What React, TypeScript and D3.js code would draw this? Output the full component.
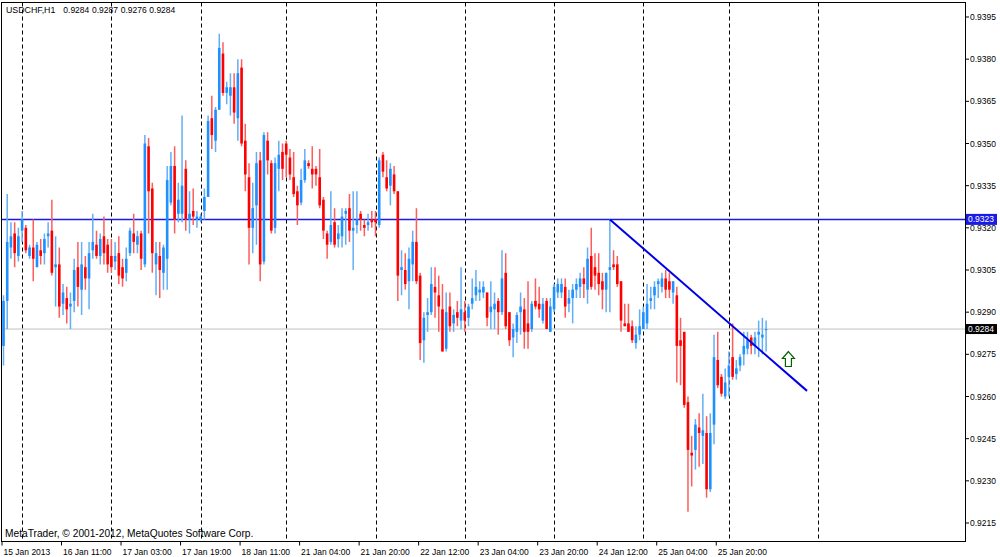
import React from 'react';
import * as d3 from 'd3';

// ---- data (USDCHF H1) ----
const opens = [
  0.9278, 0.9294, 0.9313, 0.9318, 0.9310, 0.9319, 0.9320, 0.9310, 0.9313, 0.9306,
  0.9312, 0.9311, 0.9317, 0.9319, 0.9306, 0.9307, 0.9293, 0.9295, 0.9292, 0.9294,
  0.9306, 0.9298, 0.9306, 0.9302, 0.9312, 0.9314, 0.9310, 0.9317, 0.9314, 0.9310,
  0.9308, 0.9311, 0.9306, 0.9304, 0.9311, 0.9318, 0.9314, 0.9318, 0.9307, 0.9349,
  0.9334, 0.9307, 0.9310, 0.9304, 0.9309, 0.9329, 0.9342, 0.9325, 0.9325, 0.9341,
  0.9323, 0.9326, 0.9323, 0.9323, 0.9326, 0.9331, 0.9359, 0.9351, 0.9362, 0.9382,
  0.9368, 0.9367, 0.9370, 0.9359, 0.9377, 0.9351, 0.9338, 0.9320, 0.9328, 0.9344,
  0.9308, 0.9351, 0.9343, 0.9320, 0.9341, 0.9347, 0.9350, 0.9345, 0.9338, 0.9333,
  0.9329, 0.9337, 0.9343, 0.9341, 0.9341, 0.9338, 0.9330, 0.9318, 0.9315, 0.9322,
  0.9316, 0.9317, 0.9325, 0.9327, 0.9319, 0.9321, 0.9325, 0.9321, 0.9321, 0.9323,
  0.9323, 0.9321, 0.9346, 0.9338, 0.9335, 0.9339, 0.9333, 0.9305, 0.9305, 0.9301,
  0.9307, 0.9315, 0.9303, 0.9280, 0.9289, 0.9290, 0.9299, 0.9296, 0.9291, 0.9277,
  0.9292, 0.9286, 0.9290, 0.9287, 0.9290, 0.9288, 0.9293, 0.9296, 0.9297, 0.9297,
  0.9297, 0.9290, 0.9291, 0.9294, 0.9290, 0.9304, 0.9290, 0.9281, 0.9283, 0.9290,
  0.9291, 0.9286, 0.9284, 0.9294, 0.9293, 0.9287, 0.9294, 0.9283, 0.9291, 0.9297,
  0.9297, 0.9299, 0.9293, 0.9295, 0.9298, 0.9299, 0.9302, 0.9298, 0.9310, 0.9306,
  0.9304, 0.9301, 0.9298, 0.9305, 0.9307, 0.9307, 0.9301, 0.9286, 0.9286, 0.9285,
  0.9279, 0.9282, 0.9284, 0.9286, 0.9294, 0.9296, 0.9300, 0.9299, 0.9302, 0.9301,
  0.9297, 0.9296, 0.9280, 0.9283, 0.9258, 0.9240, 0.9241, 0.9249, 0.9246, 0.9247,
  0.9227, 0.9250, 0.9273, 0.9267, 0.9260, 0.9267, 0.9274, 0.9268, 0.9271, 0.9275,
  0.9277, 0.9281, 0.9278, 0.9282, 0.9281, 0.9284,
];
const highs = [
  0.9296, 0.9332, 0.9322, 0.9322, 0.9320, 0.9326, 0.9321, 0.9314, 0.9323, 0.9315,
  0.9316, 0.9318, 0.9322, 0.9330, 0.9317, 0.9313, 0.9300, 0.9299, 0.9297, 0.9309,
  0.9315, 0.9315, 0.9310, 0.9315, 0.9325, 0.9319, 0.9318, 0.9324, 0.9316, 0.9316,
  0.9315, 0.9317, 0.9309, 0.9313, 0.9320, 0.9325, 0.9319, 0.9319, 0.9353, 0.9352,
  0.9336, 0.9315, 0.9315, 0.9314, 0.9342, 0.9347, 0.9349, 0.9336, 0.9360, 0.9344,
  0.9333, 0.9334, 0.9326, 0.9325, 0.9334, 0.9360, 0.9367, 0.9363, 0.9389, 0.9386,
  0.9372, 0.9375, 0.9375, 0.9380, 0.9380, 0.9357, 0.9343, 0.9336, 0.9347, 0.9347,
  0.9354, 0.9354, 0.9344, 0.9345, 0.9351, 0.9350, 0.9351, 0.9348, 0.9347, 0.9335,
  0.9341, 0.9348, 0.9344, 0.9349, 0.9342, 0.9348, 0.9331, 0.9319, 0.9333, 0.9327,
  0.9321, 0.9327, 0.9327, 0.9332, 0.9333, 0.9333, 0.9326, 0.9323, 0.9325, 0.9326,
  0.9326, 0.9345, 0.9347, 0.9344, 0.9343, 0.9342, 0.9333, 0.9312, 0.9311, 0.9313,
  0.9319, 0.9327, 0.9304, 0.9290, 0.9295, 0.9306, 0.9306, 0.9303, 0.9300, 0.9297,
  0.9297, 0.9291, 0.9294, 0.9306, 0.9294, 0.9293, 0.9302, 0.9305, 0.9301, 0.9301,
  0.9297, 0.9301, 0.9297, 0.9295, 0.9312, 0.9311, 0.9290, 0.9286, 0.9290, 0.9297,
  0.9295, 0.9301, 0.9294, 0.9302, 0.9299, 0.9295, 0.9295, 0.9295, 0.9300, 0.9302,
  0.9302, 0.9302, 0.9298, 0.9300, 0.9302, 0.9304, 0.9306, 0.9313, 0.9320, 0.9311,
  0.9311, 0.9304, 0.9304, 0.9323, 0.9312, 0.9310, 0.9301, 0.9293, 0.9293, 0.9287,
  0.9285, 0.9291, 0.9292, 0.9300, 0.9299, 0.9301, 0.9302, 0.9304, 0.9305, 0.9304,
  0.9301, 0.9299, 0.9288, 0.9283, 0.9260, 0.9246, 0.9252, 0.9254, 0.9261, 0.9253,
  0.9254, 0.9282, 0.9283, 0.9268, 0.9270, 0.9276, 0.9286, 0.9273, 0.9275, 0.9283,
  0.9283, 0.9282, 0.9283, 0.9287, 0.9288, 0.9287,
];
const lows = [
  0.9271, 0.9284, 0.9309, 0.9306, 0.9308, 0.9315, 0.9311, 0.9309, 0.9301, 0.9306,
  0.9307, 0.9307, 0.9313, 0.9303, 0.9292, 0.9288, 0.9289, 0.9286, 0.9284, 0.9290,
  0.9292, 0.9289, 0.9298, 0.9291, 0.9309, 0.9309, 0.9307, 0.9307, 0.9304, 0.9304,
  0.9305, 0.9300, 0.9299, 0.9301, 0.9310, 0.9311, 0.9311, 0.9305, 0.9306, 0.9318,
  0.9304, 0.9296, 0.9295, 0.9298, 0.9298, 0.9328, 0.9318, 0.9322, 0.9322, 0.9319,
  0.9318, 0.9321, 0.9320, 0.9322, 0.9323, 0.9331, 0.9348, 0.9347, 0.9362, 0.9367,
  0.9364, 0.9360, 0.9357, 0.9351, 0.9349, 0.9333, 0.9307, 0.9311, 0.9314, 0.9301,
  0.9307, 0.9339, 0.9318, 0.9318, 0.9333, 0.9337, 0.9338, 0.9337, 0.9331, 0.9321,
  0.9328, 0.9336, 0.9341, 0.9334, 0.9335, 0.9327, 0.9316, 0.9309, 0.9314, 0.9313,
  0.9313, 0.9313, 0.9314, 0.9315, 0.9305, 0.9318, 0.9319, 0.9317, 0.9319, 0.9320,
  0.9317, 0.9320, 0.9338, 0.9333, 0.9328, 0.9332, 0.9294, 0.9296, 0.9298, 0.9291,
  0.9301, 0.9300, 0.9273, 0.9272, 0.9283, 0.9289, 0.9288, 0.9283, 0.9276, 0.9276,
  0.9283, 0.9283, 0.9285, 0.9284, 0.9283, 0.9285, 0.9291, 0.9294, 0.9294, 0.9295,
  0.9285, 0.9284, 0.9284, 0.9282, 0.9289, 0.9284, 0.9278, 0.9274, 0.9279, 0.9282,
  0.9277, 0.9277, 0.9283, 0.9291, 0.9288, 0.9286, 0.9284, 0.9283, 0.9290, 0.9295,
  0.9295, 0.9288, 0.9290, 0.9286, 0.9295, 0.9295, 0.9295, 0.9293, 0.9298, 0.9298,
  0.9296, 0.9291, 0.9290, 0.9290, 0.9305, 0.9299, 0.9283, 0.9285, 0.9283, 0.9279,
  0.9277, 0.9280, 0.9284, 0.9284, 0.9291, 0.9291, 0.9295, 0.9297, 0.9295, 0.9295,
  0.9293, 0.9265, 0.9264, 0.9256, 0.9219, 0.9228, 0.9234, 0.9235, 0.9236, 0.9224,
  0.9226, 0.9243, 0.9263, 0.9260, 0.9259, 0.9260, 0.9266, 0.9266, 0.9269, 0.9271,
  0.9275, 0.9275, 0.9275, 0.9274, 0.9275, 0.9276,
];
const closes = [
  0.9294, 0.9315, 0.9317, 0.9311, 0.9317, 0.9323, 0.9312, 0.9313, 0.9309, 0.9314,
  0.9310, 0.9316, 0.9318, 0.9304, 0.9307, 0.9292, 0.9297, 0.9291, 0.9293, 0.9305,
  0.9299, 0.9307, 0.9302, 0.9311, 0.9315, 0.9310, 0.9316, 0.9311, 0.9307, 0.9306,
  0.9310, 0.9303, 0.9302, 0.9309, 0.9319, 0.9315, 0.9317, 0.9309, 0.9350, 0.9333,
  0.9311, 0.9311, 0.9305, 0.9313, 0.9337, 0.9342, 0.9323, 0.9330, 0.9335, 0.9323,
  0.9325, 0.9324, 0.9324, 0.9324, 0.9331, 0.9358, 0.9353, 0.9362, 0.9384, 0.9368,
  0.9370, 0.9370, 0.9361, 0.9375, 0.9350, 0.9339, 0.9320, 0.9327, 0.9343, 0.9307,
  0.9353, 0.9344, 0.9319, 0.9343, 0.9346, 0.9341, 0.9346, 0.9339, 0.9332, 0.9328,
  0.9337, 0.9344, 0.9342, 0.9339, 0.9339, 0.9328, 0.9319, 0.9314, 0.9321, 0.9314,
  0.9318, 0.9324, 0.9326, 0.9319, 0.9320, 0.9323, 0.9323, 0.9320, 0.9322, 0.9322,
  0.9322, 0.9344, 0.9340, 0.9334, 0.9341, 0.9333, 0.9303, 0.9306, 0.9300, 0.9309,
  0.9315, 0.9301, 0.9279, 0.9288, 0.9290, 0.9300, 0.9297, 0.9292, 0.9276, 0.9290,
  0.9285, 0.9289, 0.9288, 0.9291, 0.9287, 0.9292, 0.9295, 0.9299, 0.9298, 0.9299,
  0.9288, 0.9292, 0.9293, 0.9290, 0.9302, 0.9285, 0.9280, 0.9284, 0.9289, 0.9292,
  0.9283, 0.9283, 0.9293, 0.9292, 0.9291, 0.9293, 0.9284, 0.9292, 0.9299, 0.9300,
  0.9300, 0.9292, 0.9295, 0.9298, 0.9300, 0.9302, 0.9300, 0.9309, 0.9299, 0.9303,
  0.9300, 0.9298, 0.9304, 0.9306, 0.9306, 0.9300, 0.9287, 0.9285, 0.9283, 0.9280,
  0.9282, 0.9285, 0.9290, 0.9293, 0.9295, 0.9299, 0.9301, 0.9302, 0.9298, 0.9298,
  0.9301, 0.9278, 0.9278, 0.9257, 0.9241, 0.9239, 0.9250, 0.9247, 0.9248, 0.9227,
  0.9247, 0.9274, 0.9264, 0.9261, 0.9265, 0.9271, 0.9267, 0.9270, 0.9274, 0.9278,
  0.9280, 0.9278, 0.9281, 0.9283, 0.9282, 0.9284,
];

const symbolName = 'USDCHF,H1';
const timeLabels = [
  '15 Jan 2013', '16 Jan 11:00', '17 Jan 03:00', '17 Jan 19:00', '18 Jan 11:00',
  '21 Jan 04:00', '21 Jan 20:00', '22 Jan 12:00', '23 Jan 04:00', '23 Jan 20:00',
  '24 Jan 12:00', '25 Jan 04:00', '25 Jan 20:00',
];
const timeLabelBars = [0, 16, 32, 48, 64, 80, 96, 112, 128, 144, 160, 176, 192];
const daySeparatorBars = [5, 29, 53, 76, 100, 124, 148, 172, 195, 219];
const priceTickLabels = [
  '0.9215', '0.9230', '0.9245', '0.9260', '0.9275', '0.9290', '0.9305',
  '0.9320', '0.9335', '0.9350', '0.9365', '0.9380', '0.9395',
];
const hLinePrice = 0.9323;
const bidPrice = 0.9284;
const trendBars = [163, 216];
const trendPrices = [0.9323, 0.9262];
const arrowBar = 211;
const arrowPrice = 0.9276;

const FONT = "'Liberation Sans', Arial, sans-serif";

export default function App() {
  const W = 1000;
  const H = 557;
  const left = 1.5, right = 965.5, top = 2.5, bottom = 541.5;

  const x = d3.scaleLinear().domain([0, 1]).range([3.5, 7.22]);
  const y = d3.scaleLinear().domain([0.9215, 0.9395]).range([523, 17]);

  const bodyW = 2.6;
  const trendLine = d3.line<number>()
    .x((_, i) => x(trendBars[i]))
    .y((p) => y(p));

  const lastIdx = closes.length - 1;
  const titleVals = [opens[lastIdx], highs[lastIdx], lows[lastIdx], closes[lastIdx]];
  const titleX = [63.3, 92, 120.7, 149.3];

  const ax = x(arrowBar);
  const ay = y(arrowPrice);

  return (
    <svg width={W} height={H} style={{ position: 'absolute', left: 0, top: 0, background: '#fff' }}
      fontFamily={FONT}>
      <defs>
        <clipPath id="plot">
          <rect x={left} y={top} width={right - left} height={bottom - top} />
        </clipPath>
      </defs>
      <rect x={0} y={0} width={W} height={H} fill="#fff" />

      {/* day separators */}
      {daySeparatorBars.map((b, i) => (
        <line key={'sep' + i} x1={Math.round(x(b)) + 0.5} x2={Math.round(x(b)) + 0.5}
          y1={top} y2={bottom} stroke="#000" strokeWidth={1} strokeDasharray="4,3" />
      ))}

      {/* bid line */}
      <line x1={left} x2={right} y1={y(bidPrice)} y2={y(bidPrice)} stroke="#c0c0c0" strokeWidth={1} />
      {/* horizontal line */}
      <line x1={left} x2={right} y1={y(hLinePrice)} y2={y(hLinePrice)} stroke="#1a1ae6" strokeWidth={1.5} />

      {/* candles */}
      <g clipPath="url(#plot)">
        {closes.map((c, i) => {
          const o = opens[i];
          const bull = c >= o;
          const col = bull ? '#1e90ff' : '#ff0000';
          const wick = bull ? '#62aef8' : '#ff5c5c';
          const yTop = Math.min(y(o), y(c));
          const h = Math.max(1, Math.abs(y(o) - y(c)));
          return (
            <g key={'c' + i}>
              <line x1={x(i)} x2={x(i)} y1={y(highs[i])} y2={y(lows[i])} stroke={wick} strokeWidth={1.5} />
              <rect x={x(i) - bodyW / 2} y={yTop} width={bodyW} height={h} fill={col} />
            </g>
          );
        })}
        {/* trend line */}
        <path d={trendLine(trendPrices) || ''} stroke="#0000e6" strokeWidth={2} fill="none" />
        {/* arrow */}
        <path transform={`translate(${ax},${ay})`}
          d="M0,0 L6,7 L3,7 L3,15 L-3,15 L-3,7 L-6,7 Z"
          fill="#fff" stroke="#006400" strokeWidth={1.2} strokeLinejoin="miter" />
      </g>

      {/* frame */}
      <rect x={left} y={top} width={right - left} height={bottom - top} fill="none" stroke="#000" strokeWidth={1} />

      {/* price axis */}
      {priceTickLabels.map((t, i) => {
        const yy = y(+t);
        return (
          <g key={'pt' + i}>
            <line x1={right} x2={right + 3.5} y1={yy} y2={yy} stroke="#000" strokeWidth={1} />
            <text x={970} y={yy + 3} fontSize={8.5} fill="#000">{t}</text>
          </g>
        );
      })}
      {/* hline label */}
      <rect x={966} y={y(hLinePrice) - 5.5} width={31} height={11} fill="#1a1ae6" />
      <text x={968} y={y(hLinePrice) + 3} fontSize={8.5} fill="#fff">{hLinePrice.toFixed(4)}</text>
      {/* bid label */}
      <rect x={966} y={y(bidPrice) - 5} width={31} height={10} fill="#000" />
      <text x={968} y={y(bidPrice) + 3} fontSize={8.5} fill="#fff">{bidPrice.toFixed(4)}</text>

      {/* time axis */}
      {timeLabelBars.map((b, i) => {
        const tx = x(b) - 1.5;
        return (
          <g key={'tt' + i}>
            <line x1={tx} x2={tx} y1={bottom} y2={bottom + 4} stroke="#000" strokeWidth={1} />
            <text x={tx + 1.5} y={554.5} fontSize={8.5} fill="#000">{timeLabels[i]}</text>
          </g>
        );
      })}

      {/* title */}
      <text x={6} y={12.5} fontSize={8.8} fill="#000">{symbolName}</text>
      {titleVals.map((v, i) => (
        <text key={'tv' + i} x={titleX[i]} y={12.5} fontSize={8.5} fill="#000">{v.toFixed(4)}</text>
      ))}

      {/* copyright */}
      <text x={5} y={537} fontSize={10.2} fill="#000">MetaTrader, © 2001-2012, MetaQuotes Software Corp.</text>
    </svg>
  );
}
